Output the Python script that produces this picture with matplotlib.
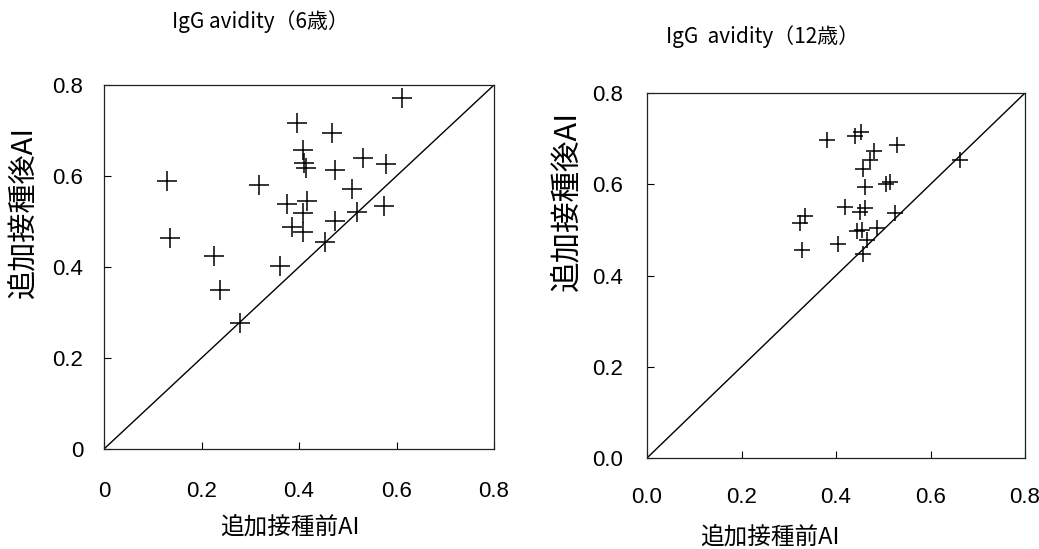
import matplotlib
matplotlib.use("Agg")
import matplotlib.pyplot as plt
import numpy as np

plt.rcParams['font.family'] = ['Liberation Sans', 'Noto Sans CJK JP', 'DejaVu Sans']

# ---- data ----
titles = ["IgG avidity（6歳）", "IgG  avidity（12歳）"]
xlabel = "追加接種前AI"
ylabel = "追加接種後AI"

pre6 = [0.611, 0.395, 0.468, 0.409, 0.411, 0.415, 0.532, 0.578, 0.474, 0.129,
        0.317, 0.508, 0.376, 0.416, 0.409, 0.574, 0.518, 0.474, 0.385, 0.409,
        0.454, 0.135, 0.226, 0.361, 0.237, 0.278]
post6 = [0.771, 0.716, 0.694, 0.657, 0.628, 0.618, 0.639, 0.626, 0.613, 0.589,
         0.580, 0.571, 0.538, 0.544, 0.519, 0.534, 0.520, 0.501, 0.487, 0.478,
         0.456, 0.463, 0.424, 0.402, 0.349, 0.278]

pre12 = [0.381, 0.440, 0.453, 0.529, 0.481, 0.472, 0.662, 0.458, 0.462, 0.506,
         0.514, 0.419, 0.451, 0.462, 0.525, 0.324, 0.335, 0.328, 0.405, 0.444,
         0.455, 0.486, 0.465, 0.458]
post12 = [0.696, 0.706, 0.714, 0.687, 0.673, 0.654, 0.654, 0.633, 0.595, 0.601,
          0.606, 0.551, 0.540, 0.549, 0.537, 0.515, 0.530, 0.455, 0.470, 0.497,
          0.500, 0.504, 0.478, 0.447]

ticks = [0.0, 0.2, 0.4, 0.6, 0.8]
ticklabels6 = ["0", "0.2", "0.4", "0.6", "0.8"]
ticklabels12 = ["0.0", "0.2", "0.4", "0.6", "0.8"]
lim = (0.0, 0.8)

W, H = 1039, 549
fig = plt.figure(figsize=(W / 100, H / 100), dpi=100)

def px_axes(x0, y0, x1, y1):
    return fig.add_axes([x0 / W, 1 - y1 / H, (x1 - x0) / W, (y1 - y0) / H])

ax1 = px_axes(104, 85, 494, 449)
ax2 = px_axes(647, 93, 1025, 458)

def style(ax, xs, ys, labels, ms, xpad, ypad):
    ax.plot(lim, lim, color='black', lw=1.0, zorder=2)
    ax.plot(xs, ys, linestyle='none', marker='+', markersize=ms,
            markeredgewidth=1.1, color='black', zorder=3)
    ax.set_xlim(*lim)
    ax.set_ylim(*lim)
    ax.set_xticks(ticks)
    ax.set_yticks(ticks)
    ax.set_xticklabels(labels)
    ax.set_yticklabels(labels)
    ax.tick_params(direction='in', length=5, width=0.8, labelsize=16)
    ax.tick_params(axis='x', pad=xpad)
    ax.tick_params(axis='y', pad=ypad)
    for s in ax.spines.values():
        s.set_linewidth(0.9)
        s.set_color('#222222')

style(ax1, pre6, post6, ticklabels6, 14, 23, 15)
style(ax2, pre12, post12, ticklabels12, 12, 21, 17)

cjk = ['Noto Sans CJK JP', 'DejaVu Sans']
fig.text(260 / W, 1 - 22 / H, titles[0], ha='center', va='center', fontsize=15, family=cjk)
fig.text(762 / W, 1 - 37 / H, titles[1], ha='center', va='center', fontsize=15, family=cjk)
fig.text(290 / W, 1 - 527 / H, xlabel, ha='center', va='center', fontsize=17, family=cjk)
fig.text(770 / W, 1 - 537 / H, xlabel, ha='center', va='center', fontsize=17, family=cjk)
fig.text(24 / W, 1 - 212 / H, ylabel, ha='center', va='center', rotation=90, fontsize=21, family=cjk)
fig.text(567 / W, 1 - 201 / H, ylabel, ha='center', va='center', rotation=90, fontsize=22, family=cjk)

fig.savefig("out.png", dpi=100)
